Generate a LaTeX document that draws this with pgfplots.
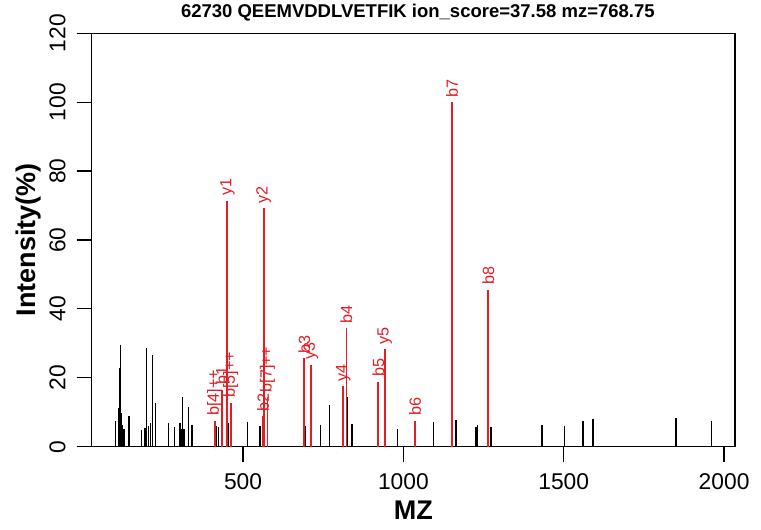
\documentclass[border=0pt]{standalone}
\usepackage{pgfplots}
\usepackage{pgfplotstable}
\pgfplotsset{compat=1.18}
\usepackage{fontspec}
\setmainfont{Liberation Sans}
\definecolor{ionred}{RGB}{226,30,36}

% unmatched peaks (black)
\pgfplotstableread{
mz int
102.8 7.6
111.1 11.1
114.2 22.8
117.3 29.5
120.5 9.7
124.6 6.3
128.8 5.0
144.4 8.9
183.9 4.9
192.2 5.3
195.3 5.3
199.5 28.6
204.7 6.0
211.9 7.0
217.1 26.6
227.5 12.8
267.0 7.0
286.8 5.6
303.4 7.0
307.5 5.0
311.7 14.3
315.9 5.0
329.4 11.4
340.8 6.3
415.6 6.0
422.9 5.6
453.0 7.0
514.5 7.3
552.9 6.0
566.0 7.0
694.0 6.0
741.5 6.3
768.8 12.0
823.5 14.5
839.7 6.6
943.0 9.9
981.5 5.0
1094.5 7.2
1164.0 7.7
1226.6 5.8
1231.7 6.4
1266.0 23.4
1273.0 5.8
1432.5 6.2
1503.0 6.0
1559.5 7.4
1590.5 7.9
1850.0 8.2
1961.0 7.6
}\peaks

% matched fragment ions (red)
\pgfplotstableread{
mz int ion
411.7 7.5 b[4]++
433.3 16.5 b1
451.3 71.4 y1
461.2 12.8 b[5]++
562.3 8.8 b2
564.4 69.2 y2
576.3 14.3 b[7]++
691.4 25.7 b3
711.5 23.8 y3
812.5 17.6 y4
822.4 34.4 b4
921.5 18.9 b5
941.6 28.3 y5
1036.5 7.5 b6
1151.5 100.0 b7
1264.6 45.5 b8
}\ions

\begin{document}
\begin{tikzpicture}[x=1pt,y=1pt]
\useasboundingbox (0,0) rectangle (761,530);
\begin{axis}[
  at={(91.7pt,83.3pt)}, anchor=south west,
  scale only axis, width=643.3pt, height=413.4pt,
  xmin=28, xmax=2034, ymin=0, ymax=120,
  xtick={500,1000,1500,2000}, ytick={0,20,...,120},
  tick pos=left, tick align=outside, major tick length=15pt,
  axis line style={line width=1.2pt},
  every tick/.style={line width=1.2pt, black},
  /pgf/number format/1000 sep={},
  /pgf/number format/assume math mode=true,
  tick label style={font=\fontsize{22.8}{26}\selectfont, inner sep=0pt},
  xticklabel shift=12pt,
  yticklabel style={rotate=90, anchor=south},
  yticklabel shift=11pt,
  title={62730 QEEMVDDLVETFIK ion\_score=37.58 mz=768.75},
  title style={at={(axis description cs:0.507,1.0225)}, anchor=base,
    font=\bfseries\fontsize{18.5}{21}\selectfont},
  xlabel={MZ}, ylabel={Intensity(\%)},
  label style={font=\bfseries\fontsize{27}{30}\selectfont},
  xlabel style={at={(axis description cs:0.5,-0.1749)}, anchor=base},
  ylabel style={at={(axis description cs:-0.0866,0.5)}, anchor=base},
]
\addplot[ycomb, black, line width=1.5pt, no marks] table[x=mz, y=int] {\peaks};
\addplot[ycomb, ionred, line width=1.9pt, no marks,
  nodes near coords, point meta=explicit symbolic,
  every node near coord/.append style={rotate=90, anchor=west,
    font=\fontsize{16.2}{18}\selectfont, text=ionred, inner sep=4pt}]
  table[x=mz, y=int, meta=ion] {\ions};
\end{axis}
\end{tikzpicture}
\end{document}
